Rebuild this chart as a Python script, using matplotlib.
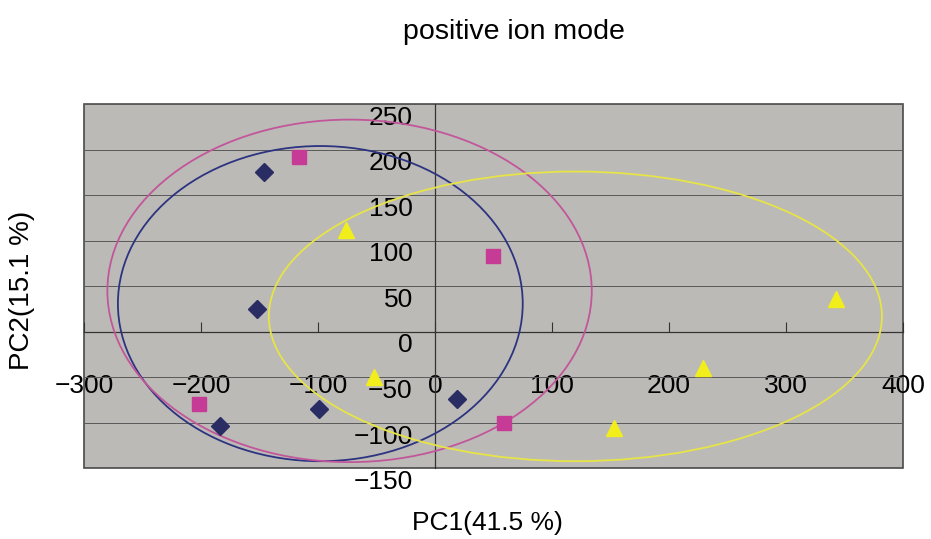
import matplotlib
matplotlib.use('Agg')
import matplotlib.pyplot as plt
from matplotlib.patches import Ellipse
from matplotlib.transforms import ScaledTranslation

# PCA scores, three groups
diamond_x = [-146, -152, -184, -99, 19]
diamond_y = [175, 25, -103, -85, -74]
square_x = [-116, 50, -202, 59]
square_y = [192, 83, -79, -100]
triangle_x = [-76, -52, 343, 229, 153]
triangle_y = [112, -50, 36, -40, -105]

# confidence ellipses: center x, center y, half width, half height
ellipse_blue = [-98, 31, 173, 173]
ellipse_magenta = [-73, 45, 207, 188]
ellipse_yellow = [120, 17, 262, 159]

x_ticks = [-300, -200, -100, 0, 100, 200, 300, 400]
y_ticks = [-150, -100, -50, 0, 50, 100, 150, 200, 250]

plt.rcParams['font.family'] = ['Liberation Sans', 'DejaVu Sans']

fig = plt.figure(figsize=(9.31, 5.39), dpi=100)
ax = fig.add_axes([0.0902, 0.1308, 0.8797, 0.676])
ax.set_facecolor('#bcbab6')
ax.patch.set_edgecolor('#4a4a4a')
ax.patch.set_linewidth(1.2)

ax.set_xlim(-300, 400)
ax.set_ylim(-150, 250)
ax.set_xticks(x_ticks)
ax.set_yticks(y_ticks)

ax.yaxis.grid(True, color='#5a5a5a', lw=0.7)
ax.set_axisbelow(True)

for side in ['top', 'right']:
    ax.spines[side].set_visible(False)
ax.spines['left'].set_position(('data', 0))
ax.spines['bottom'].set_position(('data', 0))
ax.spines['left'].set_color('#333333')
ax.spines['bottom'].set_color('#333333')
ax.spines['left'].set_linewidth(0.9)
ax.spines['bottom'].set_linewidth(0.9)

ax.tick_params(axis='x', direction='in', length=7, width=0.8, color='#333333',
               pad=30, labelsize=19)
ax.tick_params(axis='y', length=0, pad=16, labelsize=19)
offset = ScaledTranslation(0, -8 / 72, fig.dpi_scale_trans)
for lab in ax.get_yticklabels():
    lab.set_transform(lab.get_transform() + offset)
ax.set_xticklabels([str(v).replace('-', '\u2212') for v in x_ticks])
ax.set_yticklabels([str(v).replace('-', '\u2212') for v in y_ticks])

for e, c in [(ellipse_blue, '#2c3380'), (ellipse_magenta, '#c2569a'),
             (ellipse_yellow, '#e6e446')]:
    ax.add_patch(Ellipse((e[0], e[1]), 2 * e[2], 2 * e[3], fill=False,
                         edgecolor=c, lw=1.3, zorder=3))

ax.plot(diamond_x, diamond_y, 'D', color='#2a2d63', ms=9, ls='none', zorder=4)
ax.plot(square_x, square_y, 's', color='#c63b96', ms=10, ls='none', zorder=4)
ax.plot(triangle_x, triangle_y, '^', color='#f2ee1c', ms=12, ls='none', zorder=4)

fig.text(0.552, 0.94, 'positive ion mode', ha='center', va='center', fontsize=20.5)
fig.text(0.524, 0.03, 'PC1(41.5 %)', ha='center', va='center', fontsize=19)
fig.text(0.024, 0.462, 'PC2(15.1 %)', ha='center', va='center', fontsize=20,
         rotation=90)

fig.savefig('out.png', dpi=100, facecolor='white')
